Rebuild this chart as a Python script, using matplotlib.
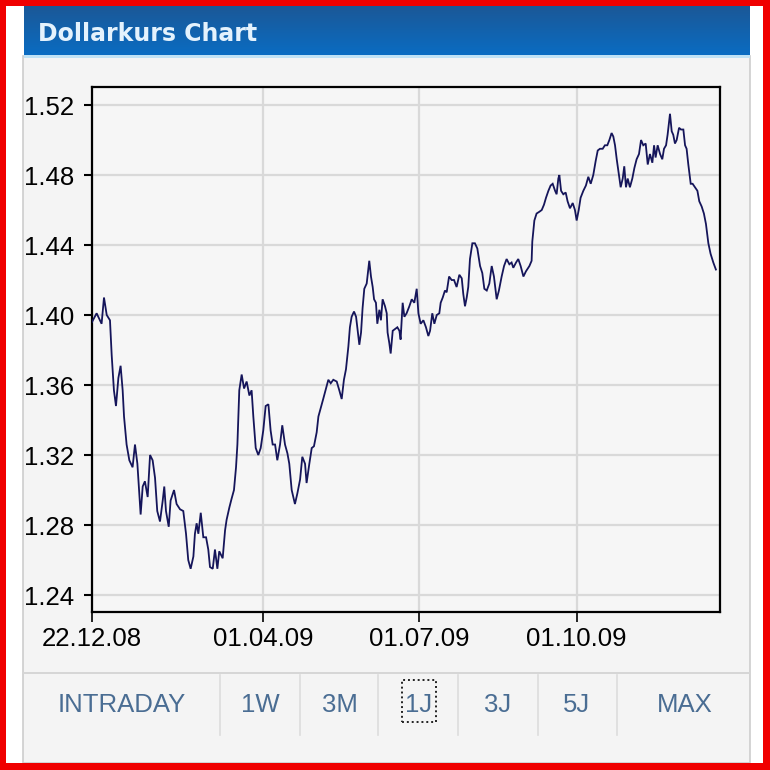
import matplotlib
matplotlib.use("Agg")
import matplotlib.pyplot as plt
from matplotlib.patches import Rectangle
from matplotlib.lines import Line2D
import numpy as np
import pandas as pd

# ---------------- data ----------------
start_date = "2008-12-22"
title = "Dollarkurs Chart"

days_a = [0, 2.7, 5.6, 7.0, 8.6, 10.5, 11.5, 12.8, 14.0, 15.4, 16.7, 17.9, 18.7, 20.2, 21.8, 23.7,
          25.1, 26.5, 27.6, 28.4, 29.6, 30.9, 32.5, 33.9, 35.4, 36.8, 38.1, 39.7, 41.3, 42.2, 43.2,
          44.8, 45.9, 47.9, 49.4, 51.4, 53.3, 54.9, 56.2, 57.6, 59.2, 60.1, 61.1, 62.1, 63.5, 65.0,
          66.6, 67.9, 68.9, 70.5, 71.8, 73.2, 74.3, 76.3, 77.7, 78.6, 80.2, 81.5, 82.9, 84.1, 84.9,
          86.0, 87.4, 88.8, 90.3, 91.9, 93.2, 94.2, 95.6, 97.1, 98.5, 100.0, 101.4, 103.0, 104.3,
          105.5, 106.9, 108.2, 109.8, 111.1, 112.7, 114.1, 115.2, 116.6, 118.5, 119.9, 121.5, 122.8,
          124.4, 125.3, 126.9, 128.3, 129.6, 131.2, 132.2, 135.0]
rate_a = [1.396, 1.401, 1.395, 1.410, 1.400, 1.397, 1.377, 1.357, 1.348, 1.364, 1.371, 1.357, 1.342,
          1.326, 1.317, 1.313, 1.326, 1.315, 1.298, 1.286, 1.302, 1.305, 1.296, 1.320, 1.317, 1.307,
          1.288, 1.282, 1.294, 1.302, 1.288, 1.279, 1.294, 1.300, 1.292, 1.289, 1.288, 1.275, 1.260,
          1.255, 1.262, 1.275, 1.281, 1.275, 1.287, 1.273, 1.273, 1.266, 1.256, 1.255, 1.266, 1.255,
          1.265, 1.261, 1.277, 1.283, 1.290, 1.295, 1.300, 1.313, 1.326, 1.357, 1.366, 1.358, 1.362,
          1.354, 1.357, 1.342, 1.324, 1.320, 1.324, 1.334, 1.348, 1.349, 1.334, 1.326, 1.326, 1.317,
          1.326, 1.337, 1.326, 1.321, 1.315, 1.300, 1.292, 1.298, 1.306, 1.319, 1.315, 1.304, 1.315,
          1.324, 1.325, 1.333, 1.342, 1.352]

days_b = [138.0, 139.4, 140.9, 142.9, 144.4, 145.8, 147.1, 148.3, 149.7, 150.6, 151.6, 153.0, 154.2,
          154.9, 156.1, 157.1, 158.0, 159.0, 160.4, 161.3, 161.9, 162.9, 163.9, 164.7, 165.8, 166.6,
          167.8, 168.7, 169.7, 171.1, 172.1, 172.6, 173.6, 174.4, 175.6, 176.9, 178.3, 179.5, 180.2,
          181.4, 182.4, 183.7, 185.3, 186.7, 188.2, 189.6, 190.6, 191.9, 193.5, 195.0, 196.4, 197.4,
          198.7, 199.9, 201.3, 202.8, 203.6, 204.8, 206.1, 207.1, 208.5, 210.0, 211.4, 212.9, 214.5,
          215.9, 216.8, 217.8, 218.8, 219.7, 220.7, 222.1, 223.6, 225.0, 226.6, 227.9, 229.1, 230.5,
          232.0, 233.4, 234.7, 236.3, 237.6, 239.2, 240.6, 242.1, 243.7, 245.0, 246.0, 247.6, 248.9,
          250.3, 251.9, 253.4, 255.4, 256.7]
rate_b = [1.363, 1.361, 1.363, 1.362, 1.357, 1.352, 1.363, 1.369, 1.382, 1.393, 1.399, 1.402, 1.399,
          1.393, 1.383, 1.390, 1.404, 1.415, 1.418, 1.426, 1.431, 1.422, 1.416, 1.409, 1.407, 1.395,
          1.403, 1.397, 1.409, 1.405, 1.401, 1.390, 1.384, 1.378, 1.391, 1.392, 1.393, 1.391, 1.386,
          1.407, 1.399, 1.401, 1.405, 1.409, 1.407, 1.415, 1.401, 1.395, 1.397, 1.393, 1.388, 1.391,
          1.401, 1.395, 1.400, 1.401, 1.407, 1.410, 1.414, 1.413, 1.422, 1.420, 1.420, 1.416, 1.423,
          1.421, 1.412, 1.405, 1.410, 1.416, 1.432, 1.441, 1.441, 1.438, 1.428, 1.424, 1.415, 1.414,
          1.418, 1.428, 1.422, 1.409, 1.414, 1.422, 1.428, 1.432, 1.429, 1.430, 1.427, 1.430, 1.432,
          1.428, 1.422, 1.425, 1.428, 1.431]

days_c = [257.1, 258.3, 259.6, 261.2, 262.6, 263.9, 265.1, 266.5, 267.8, 269.0, 270.4, 271.3, 272.3,
          272.9, 273.9, 275.2, 276.6, 277.7, 279.1, 280.7, 282.0, 283.0, 284.2, 285.3, 286.9, 288.4,
          289.8, 291.2, 292.7, 294.1, 295.3, 296.6, 298.2, 299.5, 300.9, 302.1, 303.4, 304.4, 305.4,
          306.4, 307.7, 308.7, 309.9, 310.8, 311.8, 312.8, 314.1, 315.5, 316.7, 318.0, 319.4, 320.6,
          321.9, 323.3, 324.5, 325.8, 327.2, 328.2, 329.1, 330.3, 331.7, 333.0, 334.0, 335.2, 336.1,
          337.5, 338.5, 339.4, 340.4, 341.4, 342.8, 343.9, 345.3, 346.3, 347.2, 348.2, 349.6, 350.7,
          352.1, 353.5, 354.6, 356.0, 357.3, 358.5, 359.9, 361.2, 362.8, 364.3]
rate_c = [1.442, 1.454, 1.458, 1.459, 1.460, 1.463, 1.467, 1.471, 1.474, 1.475, 1.471, 1.469, 1.478,
          1.480, 1.471, 1.469, 1.470, 1.465, 1.461, 1.464, 1.460, 1.454, 1.460, 1.467, 1.471, 1.474,
          1.479, 1.475, 1.480, 1.488, 1.494, 1.495, 1.495, 1.497, 1.497, 1.500, 1.504, 1.502, 1.497,
          1.489, 1.480, 1.473, 1.478, 1.485, 1.473, 1.478, 1.473, 1.478, 1.484, 1.489, 1.492, 1.500,
          1.497, 1.498, 1.486, 1.492, 1.487, 1.497, 1.490, 1.497, 1.492, 1.489, 1.495, 1.497, 1.503,
          1.515, 1.505, 1.503, 1.498, 1.500, 1.507, 1.506, 1.506, 1.497, 1.495, 1.486, 1.475, 1.475,
          1.473, 1.471, 1.465, 1.462, 1.458, 1.452, 1.441, 1.435, 1.430, 1.426]

x_tick_dates = ["2008-12-22", "2009-04-01", "2009-07-01", "2009-10-01"]
x_tick_labels = ["22.12.08", "01.04.09", "01.07.09", "01.10.09"]
y_ticks = [1.24, 1.28, 1.32, 1.36, 1.40, 1.44, 1.48, 1.52]
y_tick_labels = ["1.24", "1.28", "1.32", "1.36", "1.40", "1.44", "1.48", "1.52"]
buttons = ["INTRADAY", "1W", "3M", "1J", "3J", "5J", "MAX"]
active_button = "1J"

# ---------------- layout ----------------
W, H = 770, 770
fig = plt.figure(figsize=(W / 100, H / 100), dpi=100, facecolor="white")


def fr(x0, y0, x1, y1):
    return (x0 / W, 1 - y1 / H, (x1 - x0) / W, (y1 - y0) / H)


def add_rect(x0, y0, x1, y1, zorder=-10, **kw):
    l, b, w, h = fr(x0, y0, x1, y1)
    fig.patches.append(Rectangle((l, b), w, h, transform=fig.transFigure, zorder=zorder, **kw))


def add_line(xs, ys, **kw):
    fig.lines.append(Line2D([x / W for x in xs], [1 - y / H for y in ys],
                            transform=fig.transFigure, **kw))


# panel
add_rect(23, 56, 750, 763, facecolor="#f4f4f4", edgecolor="#cdcdcd", lw=1.2)

# header with gradient
hax = fig.add_axes(fr(24, 6, 750, 55))
grad = np.linspace(0, 1, 64).reshape(-1, 1)
top_c = np.array(matplotlib.colors.to_rgb("#1b5897"))
bot_c = np.array(matplotlib.colors.to_rgb("#0a6cc2"))
img = top_c[None, None, :] * (1 - grad[:, :, None]) + bot_c[None, None, :] * grad[:, :, None]
hax.imshow(img, aspect="auto", extent=(0, 1, 0, 1))
hax.set_axis_off()
add_rect(24, 55, 750, 57.5, zorder=5, facecolor="#bfe2f5", edgecolor="none")
fig.text(38 / W, 1 - 41 / H, title, fontsize=17, fontweight="bold",
         color="#e4f2fd", family="DejaVu Sans", va="baseline", ha="left")

# red frame
red = "#f00000"
add_rect(0, 0, W, 5.5, zorder=6, facecolor=red, edgecolor="none")
add_rect(0, 763, W, H, zorder=6, facecolor=red, edgecolor="none")
add_rect(0, 0, 5.5, H, zorder=6, facecolor=red, edgecolor="none")
add_rect(763, 0, W, H, zorder=6, facecolor=red, edgecolor="none")

# ---------------- main chart ----------------
ax = fig.add_axes(fr(92, 87, 720, 612))
ax.set_facecolor("#f6f6f6")

t0 = pd.Timestamp(start_date)
days = days_a + days_b + days_c
rates = rate_a + rate_b + rate_c
dates = t0 + pd.to_timedelta(days, unit="D")
ax.plot(dates, rates, color="#15155a", lw=1.3, solid_joinstyle="miter", zorder=3)

ax.set_xlim(t0, t0 + pd.Timedelta(days=366.7))
ax.set_ylim(1.2303, 1.5303)
ax.set_yticks(y_ticks)
ax.set_yticklabels(y_tick_labels)
ax.set_xticks(pd.to_datetime(x_tick_dates))
ax.set_xticklabels(x_tick_labels)

for lab in ax.get_xticklabels() + ax.get_yticklabels():
    lab.set_fontfamily(["Liberation Sans", "DejaVu Sans"])
    lab.set_fontsize(18.5)
    lab.set_color("#111111")

ax.tick_params(axis="y", direction="out", length=6, width=1.5, pad=7, colors="#000000")
ax.tick_params(axis="x", direction="out", length=7, width=1.2, pad=4, colors="#000000")
ax.grid(True, color="#d9d9d9", lw=1.6, zorder=0)
ax.set_axisbelow(True)
for sp in ax.spines.values():
    sp.set_color("#000000")
    sp.set_linewidth(1.6)

# ---------------- button bar ----------------
add_line([24, 750], [672.5, 672.5], color="#d6d6d6", lw=1.4)
for xs in [220, 300, 378, 458, 538, 617]:
    add_line([xs, xs], [675, 735], color="#dcdcdc", lw=1.2)

button_x = [122, 260, 340, 419, 498, 576, 685]
for name, bx in zip(buttons, button_x):
    fig.text(bx / W, 1 - 712 / H, name, fontsize=18.5, color="#4a6d93",
             family=["Liberation Sans", "DejaVu Sans"], ha="center", va="baseline")
    if name == active_button:
        l, b, w, h = fr(402, 680, 436, 722)
        fig.patches.append(Rectangle((l, b), w, h, transform=fig.transFigure,
                                     fill=False, edgecolor="#222222", lw=1.4,
                                     linestyle=(0, (1, 1.5)), zorder=5))

fig.savefig("out.png", dpi=100, facecolor="white")
